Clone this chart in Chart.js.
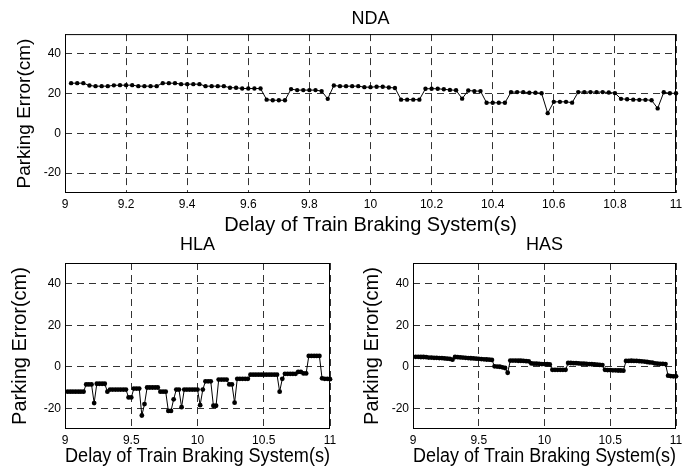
<!DOCTYPE html>
<html>
<head>
<meta charset="utf-8">
<script src="https://cdn.jsdelivr.net/npm/chart.js@4.4.0/dist/chart.umd.min.js"></script>
<style>
  body { margin: 0; background: #fff; }
  #fig { position: relative; width: 700px; height: 470px; }
  canvas { position: absolute; }
</style>
</head>
<body>
<div id="fig">
  <canvas id="ndaChart" width="700" height="240" style="left:0;top:0"></canvas>
  <canvas id="hlaChart" width="350" height="242" style="left:0;top:228px"></canvas>
  <canvas id="hasChart" width="350" height="242" style="left:350px;top:228px"></canvas>
</div>
<script>
// delay grid, sampled every 0.02 s from 9.02 to 11.00
const delays = Array.from({ length: 100 }, (_, i) => +(9.02 + 0.02 * i).toFixed(2));

const ndaError = [
  25.3, 25.3, 25.3, 24.1, 23.8, 23.8, 23.8, 24.2, 24.3, 24.3,
  24.3, 23.8, 23.8, 23.8, 23.8, 25.3, 25.3, 25.3, 24.8, 24.8,
  24.8, 24.8, 23.8, 23.8, 23.8, 23.8, 23.0, 23.0, 22.6, 22.6,
  22.6, 22.6, 17.0, 16.7, 16.7, 16.7, 22.3, 21.8, 21.8, 21.8,
  21.8, 21.3, 17.4, 24.1, 23.8, 23.8, 23.8, 23.8, 23.3, 23.3,
  23.5, 23.5, 23.1, 22.9, 17.0, 17.0, 17.0, 17.0, 22.5, 22.5,
  22.5, 22.2, 21.9, 21.7, 17.5, 21.6, 21.3, 21.3, 15.4, 15.4,
  15.4, 15.4, 20.8, 20.8, 20.8, 20.5, 20.5, 20.2, 10.2, 15.9,
  15.9, 15.9, 15.5, 20.8, 20.8, 20.8, 20.8, 20.8, 20.6, 20.3,
  17.4, 17.2, 17.0, 16.9, 16.9, 16.7, 12.6, 20.7, 20.2, 20.2
];

const hlaError = [
  -12, -12, -12, -12, -12, -12, -12, -8.5, -8.5, -8.5,
  -17.5, -8.2, -8.2, -8.2, -8.2, -12, -11, -11, -11, -11,
  -11, -11, -11, -14.8, -14.8, -10.5, -10.5, -10.5, -23.5, -18,
  -10, -10, -10, -10, -10, -12, -12, -12, -21.3, -21.3,
  -15.7, -11, -11, -19.5, -11, -11, -11, -11, -11, -11,
  -18.5, -11, -7, -7, -7, -18.8, -18.8, -6.2, -6.2, -6.2,
  -6.2, -8.5, -8.5, -17.3, -5.8, -5.8, -5.8, -5.8, -5.8, -3.8,
  -3.8, -3.8, -3.8, -3.8, -3.8, -3.8, -3.8, -3.8, -3.8, -3.8,
  -12, -5.8, -3.4, -3.4, -3.4, -3.4, -3.4, -2.5, -2.5, -3.2,
  -3.2, 5.2, 5.2, 5.2, 5.2, 5.2, -5.6, -5.8, -5.8, -6
];

const hasError = [
  4.8, 4.8, 4.7, 4.7, 4.6, 4.4, 4.4, 4.3, 4.3, 4.2,
  4.2, 4.0, 3.9, 3.8, 3.4, 4.7, 4.6, 4.5, 4.4, 4.3,
  4.2, 4.1, 4.0, 3.9, 3.8, 3.7, 3.6, 3.5, 3.4, 3.3,
  0.2, 0.1, 0, -0.3, -0.6, -2.9, 3.0, 3.0, 3.0, 2.9,
  2.9, 2.8, 2.7, 2.6, 1.6, 1.5, 1.5, 1.4, 1.3, 1.3,
  1.2, 1.1, -1.5, -1.5, -1.5, -1.5, -1.5, -1.5, 1.8, 1.8,
  1.7, 1.7, 1.6, 1.5, 1.5, 1.4, 1.3, 1.2, 1.1, 1.0,
  0.9, 0.8, -1.5, -1.6, -1.6, -1.7, -1.7, -1.8, -1.8, -1.9,
  2.8, 2.8, 2.9, 2.8, 2.8, 2.7, 2.6, 2.5, 2.3, 2.1,
  2.0, 1.6, 1.5, 1.4, 1.4, 1.3, -4.3, -4.5, -4.6, -4.6
];

const yTicks = [-20, 0, 20, 40];
const topXTicks = [9, 9.2, 9.4, 9.6, 9.8, 10, 10.2, 10.4, 10.6, 10.8, 11];
const bottomXTicks = [9, 9.5, 10, 10.5, 11];

const FONT = 'Arial, "Liberation Sans", sans-serif';

// solid box round the plot area, like the matlab axes
const frameBox = {
  id: 'frameBox',
  afterDraw(chart) {
    const a = chart.chartArea;
    const ctx = chart.ctx;
    ctx.save();
    ctx.strokeStyle = '#000';
    ctx.lineWidth = 1;
    ctx.strokeRect(a.left + 0.5, a.top + 0.5, a.right - a.left - 1, a.bottom - a.top - 1);
    ctx.restore();
  }
};

function makeChart(id, title, values, xTicks, lay) {
  return new Chart(document.getElementById(id), {
    type: 'line',
    data: {
      labels: delays,
      datasets: [{
        data: values,
        borderColor: '#000',
        borderWidth: 1,
        pointRadius: lay.dot,
        pointBackgroundColor: '#000',
        pointBorderWidth: 0,
        tension: 0,
        clip: false
      }]
    },
    options: {
      responsive: false,
      animation: false,
      devicePixelRatio: 1,
      layout: { padding: { top: 0, right: lay.right, bottom: 0, left: 0 } },
      plugins: {
        legend: { display: false },
        tooltip: { enabled: false },
        title: {
          display: true,
          text: title,
          fullSize: false,
          color: '#000',
          font: { family: FONT, size: 18, weight: 'normal' },
          padding: { top: lay.titleTop, bottom: lay.titleBottom }
        }
      },
      scales: {
        x: {
          type: 'linear',
          min: 9,
          max: 11,
          afterBuildTicks: s => { s.ticks = xTicks.map(v => ({ value: v })); },
          afterFit: s => { s.height = lay.xHeight; },
          grid: { color: '#333', lineWidth: 1, drawTicks: false },
          border: { display: false, dash: [7, 5] },
          ticks: {
            color: '#000',
            font: { family: FONT, size: 12 },
            padding: 4,
            autoSkip: false,
            maxRotation: 0,
            callback: v => String(parseFloat(v.toFixed(2)))
          },
          title: {
            display: true,
            text: 'Delay of Train Braking System(s)',
            color: '#000',
            font: { family: FONT, size: 20 },
            padding: { top: 0, bottom: lay.xTitlePad }
          }
        },
        y: {
          min: -30,
          max: 50,
          afterBuildTicks: s => { s.ticks = yTicks.map(v => ({ value: v })); },
          afterFit: s => { s.width = lay.yWidth; },
          grid: { color: '#333', lineWidth: 1, drawTicks: false },
          border: { display: false, dash: [7, 5] },
          ticks: {
            color: '#000',
            font: { family: FONT, size: 12 },
            padding: 4
          },
          title: {
            display: true,
            text: 'Parking Error(cm)',
            color: '#000',
            font: { family: FONT, size: lay.yTitleSize },
            padding: { top: lay.yTitlePad, bottom: 0 }
          }
        }
      }
    },
    plugins: [frameBox]
  });
}

makeChart('ndaChart', 'NDA', ndaError, topXTicks,
  { right: 24, titleTop: 8, titleBottom: 4.5, xHeight: 47, xTitlePad: 3, yWidth: 65, yTitleSize: 19, yTitlePad: 13.6, dot: 2.2 });
makeChart('hlaChart', 'HLA', hlaError, bottomXTicks,
  { right: 20, titleTop: 6.5, titleBottom: 6.9, xHeight: 41, xTitlePad: 1.3, yWidth: 65, yTitleSize: 20, yTitlePad: 8, dot: 2.4 });
makeChart('hasChart', 'HAS', hasError, bottomXTicks,
  { right: 24, titleTop: 6.5, titleBottom: 6.9, xHeight: 41, xTitlePad: 1.3, yWidth: 63, yTitleSize: 20, yTitlePad: 10, dot: 2.4 });
</script>
</body>
</html>
